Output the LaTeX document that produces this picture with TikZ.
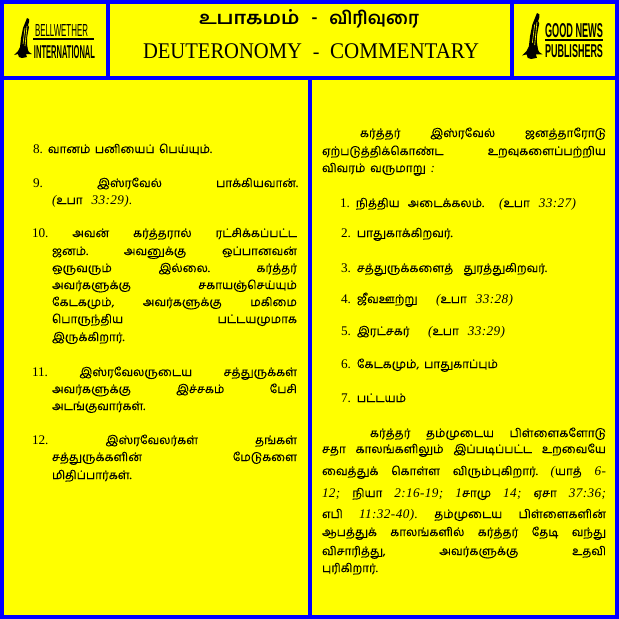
\documentclass[tikz,border=0pt]{standalone}
\usepackage{fontspec}
\usepackage{graphicx}
\setmainfont{Liberation Serif}
\newfontfamily\tafont[Script=Tamil,FakeBold=0.15]{Hind Madurai}
\newfontfamily\tatitle[Script=Tamil]{Hind Madurai}
\newfontfamily\nit[LetterSpace=3]{Liberation Serif}
\newfontfamily\logofont{Liberation Sans}
\newcommand{\ta}{\tafont\fontsize{11.7}{14}\selectfont}
\newcommand{\dg}[1]{{\nit\itshape\fontsize{13.2}{14}\selectfont #1}}
\definecolor{frameblue}{RGB}{0,0,255}
\definecolor{pageyellow}{RGB}{255,255,0}
\tikzset{
  framebar/.style={fill=frameblue,draw=none},
  textline/.style={anchor=base west,inner sep=0pt,outer sep=0pt,font=\fontsize{13.2}{14}\selectfont,text=black},
  titleline/.style={anchor=base west,inner sep=0pt,outer sep=0pt,text=black},
  logotext/.style={anchor=north west,inner sep=0pt,outer sep=0pt,text=black},
  logobar/.style={fill=black,draw=none}
}
% justified line: name, x, y, width, content with \G between words
\newcommand{\jl}[5]{\node[textline] (#1) at (#2,#3) {\hbox to #4pt{\let\G\hfil #5}};}
% free line: name, x, y, content
\newcommand{\fl}[4]{\node[textline] (#1) at (#2,#3) {\def\G{\hspace{6pt}}#4};}
\newcommand{\statuepath}{(27,18)--(29,19)--(29,22)--(28,25)--(29,27)--(28,32)--(27,38)--(27,44)--(28,50)--(29,52)--(32,54)--(26,54)--(27,57)--(22,58)--(19,57)--(18,54)--(14,55)--(18,51)--(20,47)--(21,38)--(23,28)--(25,23)--cycle}
\begin{document}
\begin{tikzpicture}[x=1pt,y=-1pt]
\useasboundingbox (0,0) rectangle (619,619);
\fill[pageyellow] (0,0) rectangle (619,619);
% frame
\fill[framebar] (0,0) rectangle (619,4);
\fill[framebar] (0,615) rectangle (619,619);
\fill[framebar] (0,0) rectangle (4,619);
\fill[framebar] (615,0) rectangle (619,619);
\fill[framebar] (0,76) rectangle (619,80);
\fill[framebar] (106,0) rectangle (110,80);
\fill[framebar] (510,0) rectangle (514,80);
\fill[framebar] (308,76) rectangle (312,619);
% logo left
\fill[black] \statuepath;
\draw[pageyellow,line width=0.6pt] (25,28)--(23,44) (27,26)--(25,46);
\node[logotext] (bell) at (35,24) {\resizebox{53pt}{12pt}{\logofont BELLWETHER}};
\fill[logobar] (33,38) rectangle (94,40);
\node[logotext] (intl) at (34,45) {\resizebox{61pt}{13pt}{\logofont\bfseries INTERNATIONAL}};
% logo right
\begin{scope}[shift={(505.9,-7.7)},scale=1.15]
\fill[black] \statuepath;
\draw[pageyellow,line width=0.6pt] (25,28)--(23,44) (27,26)--(25,46);
\end{scope}
\node[logotext] (good) at (545,23) {\resizebox{58pt}{14pt}{\logofont\bfseries GOOD NEWS}};
\fill[logobar] (545,39) rectangle (603,41);
\node[logotext] (publ) at (545,44) {\resizebox{58pt}{13pt}{\logofont\bfseries PUBLISHERS}};
% titles
\node[titleline,font=\fontsize{18}{20}\selectfont] (ttam) at (199,24) {\hbox to 220pt{\tatitle\bfseries\scalebox{1.12}[1]{உபாகமம்}\hfil\raisebox{1pt}{-}\hfil\scalebox{0.98}[1]{விரிவுரை}}};
\node[titleline,font=\fontsize{20}{22}\selectfont] (teng) at (143,58) {\hbox to 336pt{\scalebox{1.03}[1.12]{DEUTERONOMY}\hfil -\hfil \scalebox{1.05}[1.12]{COMMENTARY}}};
% left column
\jl{l1}{33}{153}{179}{8.\hspace{5pt}\ta வானம்\G பனியைப்\G பெய்யும்.}
\jl{l2}{33}{187}{265}{9.\G\ta இஸ்ரவேல்\G பாக்கியவான்.}
\fl{l3}{52}{204}{\dg{(}\ta உபா\hspace{9pt}\dg{33:29).}}
\jl{l4}{32}{237}{265}{10.\G\ta அவன்\G கர்த்தரால்\G ரட்சிக்கப்பட்ட}
\jl{l5}{52}{255}{245}{\ta ஜனம்.\G அவனுக்கு\G ஒப்பானவன்}
\jl{l6}{52}{272}{245}{\ta ஒருவரும்\G இல்லை.\G கர்த்தர்}
\jl{l7}{52}{289}{245}{\ta அவர்களுக்கு\G சகாயஞ்செய்யும்}
\jl{l8}{52}{306}{245}{\ta கேடகமும்,\G அவர்களுக்கு\G மகிமை}
\jl{l9}{52}{323}{245}{\ta பொருந்திய\G பட்டயமுமாக}
\fl{l10}{52}{341}{\ta இருக்கிறார்.}
\jl{l11}{32}{376}{265}{11.\G\ta இஸ்ரவேலருடைய\G சத்துருக்கள்}
\jl{l12}{52}{393}{245}{\ta அவர்களுக்கு\G இச்சகம்\G பேசி}
\fl{l13}{52}{410}{\ta அடங்குவார்கள்.}
\jl{l14}{32}{444}{265}{12.\G\ta இஸ்ரவேலர்கள்\G தங்கள்}
\jl{l15}{52}{461}{245}{\ta சத்துருக்களின்\G மேடுகளை}
\fl{l16}{52}{479}{\ta மிதிப்பார்கள்.}
% right column
\jl{r1}{360}{137}{246}{\ta கர்த்தர்\G இஸ்ரவேல்\G ஜனத்தாரோடு}
\jl{r2}{322}{155}{284}{\ta ஏற்படுத்திக்கொண்ட\G உறவுகளைப்பற்றிய}
\jl{r3}{322}{172}{113}{\ta விவரம்\G வருமாறு\G \dg{:}}
\jl{r4}{340}{207}{236}{1.\hspace{6pt}\ta நித்திய\hspace{8pt}அடைக்கலம்.\G\dg{(}\ta உபா\hspace{9pt}\dg{33:27)}}
\fl{r5}{341}{237}{2.\hspace{6pt}\ta பாதுகாக்கிறவர்.}
\jl{r6}{341}{272}{206}{3.\hspace{6pt}\ta சத்துருக்களைத்\G துரத்துகிறவர்.}
\jl{r7}{341}{303}{172}{4.\hspace{6pt}\ta ஜீவஊற்று\G\dg{(}\ta உபா\hspace{9pt}\dg{33:28)}}
\jl{r8}{341}{335}{164}{5.\hspace{6pt}\ta இரட்சகர்\G\dg{(}\ta உபா\hspace{9pt}\dg{33:29)}}
\jl{r9}{341}{368}{157}{6.\hspace{6pt}\ta கேடகமும்,\G பாதுகாப்பும்}
\fl{r10}{341}{402}{7.\hspace{6pt}\ta பட்டயம்}
\jl{r11}{370}{437}{236}{\ta கர்த்தர்\G தம்முடைய\G பிள்ளைகளோடு}
\jl{r12}{322}{453}{284}{\ta சதா\G காலங்களிலும்\G இப்படிப்பட்ட\G உறவையே}
\jl{r13}{322}{475}{284}{\ta வைத்துக்\G கொள்ள\G விரும்புகிறார்.\G\dg{(}\ta யாத்\G \dg{6-}}
\jl{r14}{322}{497}{284}{\dg{12;}\G\ta நியா\G \dg{2:16-19;}\G \dg{1}\ta சாமு\G \dg{14;}\G\ta ஏசா\G \dg{37:36;}}
\jl{r15}{322}{518}{284}{\ta எபி\G \dg{11:32-40).}\G\ta தம்முடைய\G பிள்ளைகளின்}
\jl{r16}{322}{536}{284}{\ta ஆபத்துக்\G காலங்களில்\G கர்த்தர்\G தேடி\G வந்து}
\jl{r17}{322}{555}{284}{\ta விசாரித்து,\G அவர்களுக்கு\G உதவி}
\fl{r18}{322}{572}{\ta புரிகிறார்.}
\end{tikzpicture}
\end{document}
